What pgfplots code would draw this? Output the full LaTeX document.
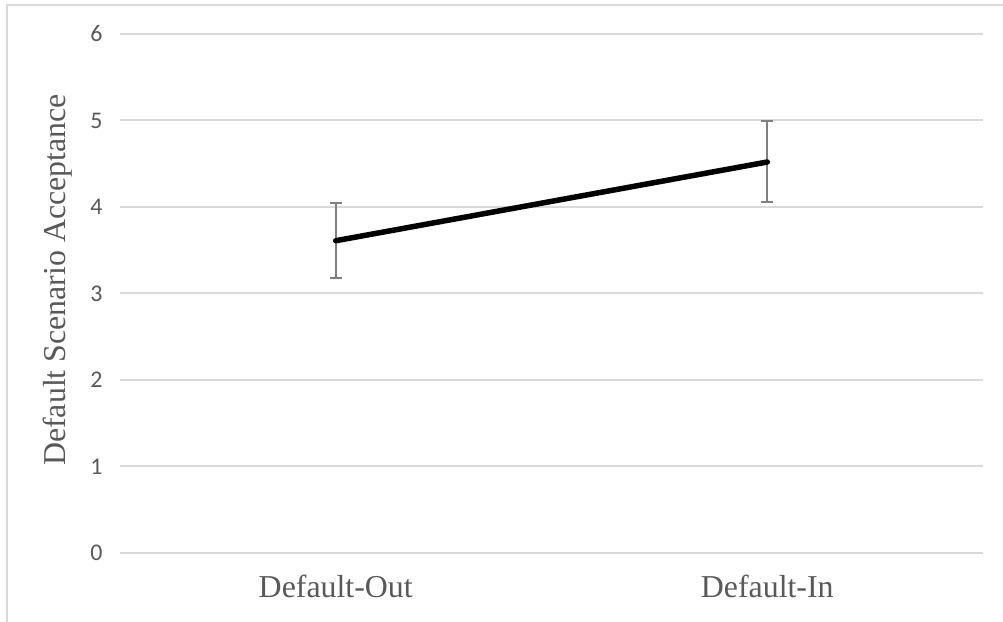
\documentclass[border=0pt]{standalone}
\usepackage{fontspec}
\setmainfont{Liberation Serif}
\newfontfamily\calibri{Carlito}
\usepackage{pgfplots}
\pgfplotsset{compat=1.18}
\definecolor{txtgray}{HTML}{595959}
\definecolor{gridgray}{HTML}{D9D9D9}
\definecolor{errgray}{HTML}{7F7F7F}
\begin{document}
\begin{tikzpicture}[x=1bp,y=1bp]
\useasboundingbox (0,0) rectangle (1003,622);
\draw[gridgray, line width=2bp] (7,0) -- (7,617) -- (1003,617);
\begin{axis}[
  at={(120bp,69bp)}, anchor=south west,
  scale only axis, width=863bp, height=519bp,
  xmin=-0.5, xmax=1.5, ymin=0, ymax=6,
  xtick=data, xticklabels={Default-Out, Default-In},
  ytick={0,1,2,3,4,5,6},
  axis line style={draw=none},
  major tick length=0pt,
  ymajorgrids, grid style={gridgray, line width=2bp},
  /pgf/number format/assume math mode=true,
  yticklabel style={font=\calibri\fontsize{24}{24}\selectfont, text=txtgray, xshift=-14bp},
  xticklabel style={font=\fontsize{32}{32}\selectfont, text=txtgray, yshift=-19bp},
  ylabel={Default Scenario Acceptance},
  ylabel style={font=\fontsize{32}{32}\selectfont, text=txtgray, at={(axis description cs:-0.072,0.526)}, anchor=center, rotate=0},
  clip=false,
]
\addplot[draw=none, mark=none,
  error bars/.cd, y dir=both, y explicit,
  error bar style={line width=1.8bp, errgray},
  error mark options={rotate=90, mark size=6bp, line width=1.8bp, errgray}]
  coordinates {
    (0,3.61) += (0,0.44) -= (0,0.43)
    (1,4.52) += (0,0.47) -= (0,0.46)
  };
\addplot[black, line width=5.5bp, line cap=round, mark=none]
  coordinates {
    (0,3.61)
    (1,4.52)
  };
\end{axis}
\end{tikzpicture}
\end{document}
